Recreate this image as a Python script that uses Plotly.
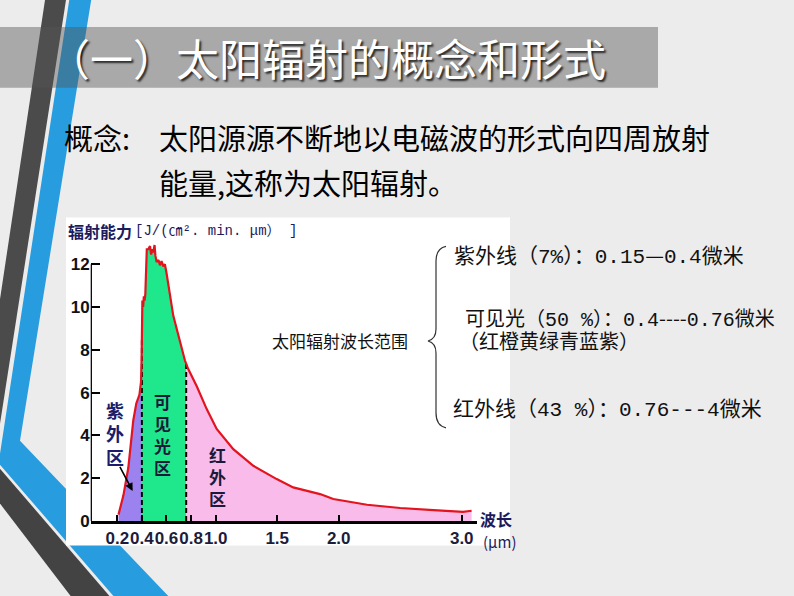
import plotly.graph_objects as go
import numpy as np

W, H = 794, 596
FY = 0.986  # vertical compensation measured from the rendered page

# ---------------- data ----------------
wavelength = [0.21, 0.25, 0.29, 0.33, 0.355, 0.38, 0.393, 0.398, 0.404, 0.41, 0.416,
              0.422, 0.428, 0.435, 0.44, 0.452, 0.466, 0.475, 0.483, 0.493, 0.503,
              0.51, 0.52, 0.535, 0.547, 0.56, 0.574, 0.587, 0.60, 0.655, 0.71, 0.75,
              0.777, 0.846, 0.927, 1.008, 1.143, 1.306, 1.496, 1.63, 1.848, 1.956,
              2.23, 2.50, 2.77, 3.01, 3.08]
radiation = [0.3, 1.2, 2.5, 4.7, 5.5, 5.9, 6.5, 7.6, 10.3, 10.0, 10.5,
             10.3, 10.6, 12.6, 12.7, 12.7, 12.85, 12.45, 12.7, 12.55, 12.9,
             12.4, 12.1, 12.2, 11.95, 12.15, 11.9, 12.0, 11.6, 9.6, 8.4, 7.5,
             7.1, 6.3, 5.23, 4.3, 3.36, 2.58, 1.96, 1.57, 1.26, 1.03,
             0.76, 0.61, 0.51, 0.43, 0.48]
uv_end = 0.40
vis_end = 0.76
x_tick_vals = [0.2, 0.4, 0.6, 0.8, 1.0, 1.5, 2.0, 3.0]
x_tick_text = ["0.2", "0.4", "0.6", "0.8", "1.0", "1.5", "2.0", "3.0"]
y_tick_vals = [0, 2, 4, 6, 8, 10, 12]
region_labels = ["紫<br>外<br>区", "可<br>见<br>光<br>区", "红<br>外<br>区"]

title_text = "（一）太阳辐射的概念和形式"
concept_head = "概念:"
concept_line1 = "太阳源源不断地以电磁波的形式向四周放射"
concept_line2 = "能量,这称为太阳辐射。"
y_title_bold = "辐射能力"
y_title_unit = "[J/(㎝². min. μm） ]"
x_title = "波长"
x_unit = "(μm)"
range_title = "太阳辐射波长范围"
CJKSPAN = '<span style="font-family:\'Noto Sans CJK SC\'">{}</span>'
range_items = ["紫外线（7%）：0.15" + CJKSPAN.format("—") + "0.4微米",
               "可见光（50 %）：0.4" + CJKSPAN.format("----") + "0.76微米",
               "（红橙黄绿青蓝紫）",
               "红外线（43 %）：0.76---4微米"]

CJK = "Noto Sans CJK SC"
MONO_CJK = "Liberation Mono, Noto Sans CJK SC"


def px(x):
    return x / W


def py(y):
    return 1 - y / (H * FY)


def poly(points):
    return "M " + " L ".join(f"{px(a):.5f},{py(b):.5f}" for a, b in points) + " Z"


wl = np.array(wavelength)
rad = np.array(radiation)


def segment(a, b):
    m = (wl > a) & (wl < b)
    xs = np.concatenate([[a], wl[m], [b]])
    ys = np.concatenate([[np.interp(a, wl, rad)], rad[m], [np.interp(b, wl, rad)]])
    return xs, ys


fig = go.Figure()

for (a, b), col in [((wl[0], uv_end), "#9b82ee"),
                    ((uv_end, vis_end), "#1fe88c"),
                    ((vis_end, wl[-1]), "#f9bbea")]:
    xs, ys = segment(a, b)
    fig.add_trace(go.Scatter(x=xs, y=ys, mode="lines", fill="tozeroy",
                             fillcolor=col, line=dict(width=0, color=col),
                             hoverinfo="skip", showlegend=False))

for xv in (uv_end, vis_end):
    fig.add_trace(go.Scatter(x=[xv, xv], y=[0, float(np.interp(xv, wl, rad))],
                             mode="lines", line=dict(color="black", width=2, dash="5px,3px"),
                             hoverinfo="skip", showlegend=False))

fig.add_trace(go.Scatter(x=wl, y=rad, mode="lines",
                         line=dict(color="#e3141e", width=2.2),
                         hoverinfo="skip", showlegend=False))

# ---------------- axes ----------------
x_left_px, x_right_px = 90.7, 477.0
y_bot_px, y_top_px = 522.5, 232.8
xr = [-0.016, 3.124]
yr = [0, 13.5]

fig.update_xaxes(domain=[px(x_left_px), px(x_right_px)], range=xr,
                 showline=True, linecolor="black", linewidth=2.5,
                 ticks="inside", ticklen=6, tickwidth=2, tickcolor="black",
                 tickvals=x_tick_vals, ticktext=x_tick_text, tickangle=0,
                 tickfont=dict(family="Liberation Sans", size=17, color="#1c1c3c",
                               weight="bold"),
                 showgrid=False, zeroline=False, layer="above traces")
fig.update_yaxes(domain=[py(y_bot_px), py(y_top_px)], range=yr,
                 showline=False, ticks="inside", ticklen=9, tickwidth=2,
                 tickcolor="black", tickvals=y_tick_vals, tickangle=0,
                 tickfont=dict(family="Liberation Sans", size=17, color="#111111",
                               weight="bold"),
                 showgrid=False, zeroline=False, layer="above traces")

shapes = []
# slide decorations
shapes.append(dict(type="path", xref="paper", yref="paper", layer="below",
                   path=poly([(45, 0), (66, 0), (0, 425), (0, 300)]),
                   fillcolor="#4b4b4b", line=dict(width=0)))
shapes.append(dict(type="path", xref="paper", yref="paper", layer="below",
                   path=poly([(70, -5), (92, -5), (20, 442), (180, 610), (124, 610),
                              (0, 466), (0, 455)]),
                   fillcolor="#279de0", line=dict(width=0)))
shapes.append(dict(type="path", xref="paper", yref="paper", layer="below",
                   path=poly([(0, 470), (120, 610), (80, 610), (0, 505)]),
                   fillcolor="#434343", line=dict(width=0)))
shapes.append(dict(type="rect", xref="paper", yref="paper", layer="below",
                   x0=0, x1=px(658), y0=py(88), y1=py(27),
                   fillcolor="rgba(85,85,85,0.44)", line=dict(width=0)))
# white picture area
shapes.append(dict(type="rect", xref="paper", yref="paper", layer="below",
                   x0=px(66), x1=px(510), y0=py(547), y1=py(218),
                   fillcolor="white", line=dict(width=0)))
# y axis line (only up to 12)
shapes.append(dict(type="line", xref="x", yref="y", x0=xr[0], x1=xr[0], y0=0, y1=12,
                   line=dict(color="black", width=2.5), layer="above"))
# brace
bp = [(446, 247), (436, 249), (436, 262), (436, 330), (436, 340), (428, 342),
      (436, 344), (436, 354), (436, 414), (436, 427), (446, 429)]
c = [f"{px(a):.5f},{py(b):.5f}" for a, b in bp]
brace_path = (f"M {c[0]} Q {c[1]} {c[2]} L {c[3]} Q {c[4]} {c[5]} "
              f"Q {c[6]} {c[7]} L {c[8]} Q {c[9]} {c[10]}")
shapes.append(dict(type="path", xref="paper", yref="paper", path=brace_path,
                   line=dict(color="#333333", width=1.2)))

anns = []


def text(x, y, t, size, color="#111111", xanchor="left", yanchor="middle",
         family=CJK, **kw):
    anns.append(dict(x=px(x), y=py(y), xref="paper", yref="paper", text=t,
                     showarrow=False, xanchor=xanchor, yanchor=yanchor,
                     font=dict(family=family, size=size, color=color, **kw)))


text(45, 57, title_text, 43, "white", shadow="2px 2px 2px rgba(0,0,0,0.75)")
text(62, 137, concept_head, 29, "#000000")
text(157, 137, concept_line1, 29, "#000000")
text(157, 183, concept_line2, 29, "#000000")

text(66, 232, f"<b>{y_title_bold}</b>", 16, "#1b1b5e")
text(133, 232, y_title_unit, 14, "#1b1b5e", family=MONO_CJK)
text(496, 520, f"<b>{x_title}</b>", 16, "#1b1b5e", xanchor="center")
text(499, 543, x_unit, 15, "#1b1b5e", xanchor="center")

text(270, 341, range_title, 17, "#111111")
text(452, 255, range_items[0], 21, "#111111", family=MONO_CJK)
text(463, 318, range_items[1], 20, "#111111", family=MONO_CJK)
text(457, 344, range_items[2], 20, "#111111", family=MONO_CJK)
text(451, 411, range_items[3], 21, "#111111", family=MONO_CJK)

text(115, 435, "<b>" + region_labels[0] + "</b>", 18, "#1c1c6b", xanchor="center")
text(162, 436, "<b>" + region_labels[1] + "</b>", 17, "#1a1a3a", xanchor="center")
text(217, 478, "<b>" + region_labels[2] + "</b>", 17, "#1a1a3a", xanchor="center")

# arrow from 紫外区 label to the UV area
anns.append(dict(x=0.325, y=1.4, ax=0.215, ay=2.6, xref="x", yref="y",
                 axref="x", ayref="y", text="", showarrow=True,
                 arrowhead=2, arrowsize=1, arrowwidth=1.6, arrowcolor="black"))

fig.update_layout(width=W, height=H, autosize=False,
                  margin=dict(l=0, r=0, t=0, b=0),
                  paper_bgcolor="#ececec", plot_bgcolor="rgba(0,0,0,0)",
                  shapes=shapes, annotations=anns, showlegend=False)

fig.write_html("out.html")
